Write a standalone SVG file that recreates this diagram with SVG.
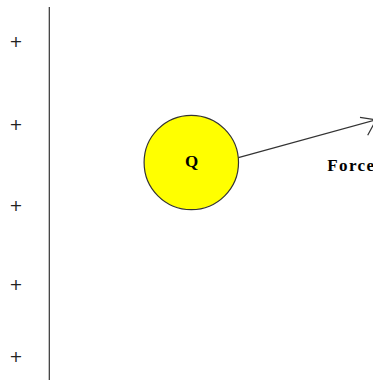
<svg xmlns="http://www.w3.org/2000/svg" width="373" height="380" viewBox="0 0 373 380">
<style>
.plus{font-family:"DejaVu Sans",sans-serif;font-size:16px;fill:#222;text-anchor:middle}
.lbl{font-family:"Liberation Serif","Times New Roman",serif;font-weight:bold;font-size:17px;fill:#000}
.ln{stroke:#333;stroke-width:1.2;fill:none}
</style>
<rect width="373" height="380" fill="#fff"/>
<g id="plate">
<line class="ln" x1="49.3" y1="7" x2="49.3" y2="380"/>
<text class="plus" x="16" y="46.6">+</text>
<text class="plus" x="16" y="130.2">+</text>
<text class="plus" x="16" y="210.9">+</text>
<text class="plus" x="16" y="290.2">+</text>
<text class="plus" x="16" y="361.6">+</text>
</g>
<g id="charge">
<circle cx="191.3" cy="162.5" r="47.2" fill="#ffff00" stroke="#333" stroke-width="1.2"/>
<text class="lbl" x="191.5" y="166.5" text-anchor="middle">Q</text>
</g>
<g id="connectors">
<line class="ln" x1="238.4" y1="157.7" x2="376" y2="119.8"/>
<polyline class="ln" points="360,117.3 376,119.8 367.7,135.3"/>
</g>
<g id="force-label">
<text class="lbl" x="327.3" y="170.7" letter-spacing="1.4">Force</text>
</g>
</svg>
